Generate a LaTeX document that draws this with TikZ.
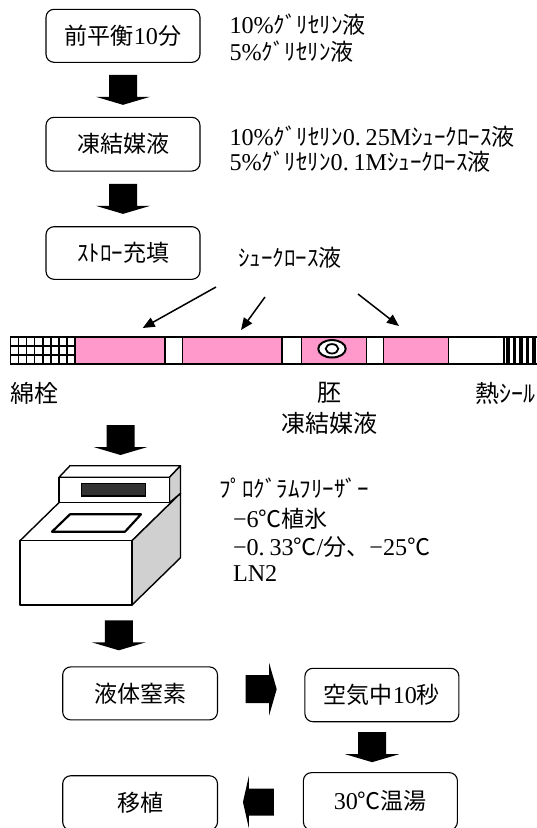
\documentclass[tikz,border=0pt]{standalone}
\usepackage{fontspec}
\setmainfont{Noto Sans CJK JP}
\newfontfamily\latn[Scale=1.05]{Liberation Serif}
\newcommand\lt[1]{{\latn #1}}
\usetikzlibrary{arrows.meta,calc}
\definecolor{strawpink}{HTML}{FF99CC}
\definecolor{sidegray}{HTML}{D0D0D0}
\definecolor{panel}{HTML}{333333}

\begin{document}
\begin{tikzpicture}[x=1pt,y=-1pt,
  every node/.style={inner sep=0pt, outer sep=0pt, font=\fontsize{23}{27}\selectfont},
  stepbox/.style={draw, line width=1.1pt, rounded corners=8pt, minimum width=154pt, minimum height=53pt, fill=white},
  note/.style={anchor=west},
  tag/.style={font=\fontsize{24}{28}\selectfont},
  lineout/.style={draw=black, line width=1.4pt, line join=round},
  pointer/.style={line width=1.5pt, -{Triangle[length=12pt,width=10pt]}},
  pics/downblock/.style={code={\fill (-14,-15) -- (14,-15) -- (14,7) -- (27,7) -- (0,15) -- (-27,7) -- (-14,7) -- cycle;}},
  pics/rightblock/.style={code={\fill (-15.5,-14) -- (8,-14) -- (8,-26) -- (15.5,0) -- (8,26) -- (8,14) -- (-15.5,14) -- cycle;}},
  pics/leftblock/.style={code={\fill (15.5,-13.5) -- (-9.5,-13.5) -- (-9.5,-26.5) -- (-15.5,0) -- (-9.5,26.5) -- (-9.5,13.5) -- (15.5,13.5) -- cycle;}},
]
\useasboundingbox (0,0) rectangle (537,828);
\clip (0,0) rectangle (537,828);

% preparation steps
\node[stepbox] (pre) at (123,35.8) {前平衡\lt{10}分};
\node[stepbox, minimum height=53.7pt] (cryo) at (123,144.2) {凍結媒液};
\node[stepbox, minimum height=52.6pt] (load) at (123,253) {ｽﾄﾛｰ充填};

\node[note] (n1a) at (229.5,25) {\lt{10\%}ｸﾞﾘｾﾘﾝ液};
\node[note] (n1b) at (229.5,51.7) {\lt{5\%}ｸﾞﾘｾﾘﾝ液};
\node[note] (n2a) at (229.5,136.7) {\lt{10\%}ｸﾞﾘｾﾘﾝ\lt{0.\kern.2em 25M}ｼｭｰｸﾛｰｽ液};
\node[note] (n2b) at (229.5,161.7) {\lt{5\%}ｸﾞﾘｾﾘﾝ\lt{0.\kern.2em 1M}ｼｭｰｸﾛｰｽ液};

\pic at ($(pre.south)!.5!(cryo.north)$) {downblock};
\pic at ($(cryo.south)!.5!(load.north)$) {downblock};

\node[note] (suc) at (238,258) {ｼｭｰｸﾛｰｽ液};

% straw
\draw[line width=1.4pt, fill=white] (10.7,337) rectangle (545,364);
\foreach \i in {0,...,8} \draw[line width=1.3pt] ({10.7+8.04*\i},337) -- ({10.7+8.04*\i},364);
\foreach \j in {0,...,3} \draw[line width=1.3pt] (10.7,{337+9*\j}) -- (75,{337+9*\j});
\draw[line width=1.4pt, fill=strawpink] (75,337) rectangle (165,364);
\draw[line width=1.4pt, fill=strawpink] (182.7,337) rectangle (281.8,364);
\draw[line width=1.4pt, fill=strawpink] (301.7,337) rectangle (366.7,364);
\draw[line width=1.4pt, fill=strawpink] (383.3,337) rectangle (448.3,364);
\draw[line width=1.4pt] (504,337) -- (504,364);
\foreach \sx in {506,512.5,519,525.5,532} \fill (\sx,337) rectangle ++(3.5,27);
\draw[line width=1.4pt] (10.7,337) rectangle (545,364);
\coordinate (emb) at (332,348.8);
\draw[line width=2pt, fill=white] (emb) ellipse [x radius=13.7pt, y radius=8.7pt];
\draw[line width=1.8pt] (emb) ellipse [x radius=6.3pt, y radius=4.7pt];

% sucrose pointers
\coordinate (s1) at (216,287); \coordinate (t1) at (142.7,328);
\coordinate (s2) at (265,297); \coordinate (t2) at (241,330);
\coordinate (s3) at (358,294); \coordinate (t3) at (399,326);
\draw[pointer] (s1) -- (t1);
\draw[pointer] (s2) -- (t2);
\draw[pointer] (s3) -- (t3);

\node[tag, anchor=west] (cotton) at (10,393) {綿栓};
\node[tag] (embl) at (329,393) {胚};
\node[tag] (medl) at (329,423) {凍結媒液};
\node[tag, anchor=west] (seal) at (475.5,393) {熱ｼｰﾙ};

\pic at (120.5,440) {downblock};

% programmable freezer
\draw[lineout, fill=white] (20,540.7) -- (68.5,493.3) -- (180.5,493.3) -- (132,540.7) -- cycle;
\draw[lineout, fill=sidegray] (132,540.7) -- (180.5,493.3) -- (180.5,557.7) -- (132,605) -- cycle;
\draw[lineout, fill=white] (20,540.7) rectangle (132,605);
\draw[lineout, fill=white] (59,477.3) -- (70,465.7) -- (180.5,465.7) -- (169.5,477.3) -- cycle;
\draw[lineout, fill=sidegray] (169.5,477.3) -- (180.5,465.7) -- (180.5,493.3) -- (169.5,502.7) -- cycle;
\draw[lineout, fill=white] (59,477.3) rectangle (169.5,502.7);
\draw[line width=1.3pt, fill=panel] (81.5,483.3) rectangle (145.5,496);
\draw[line width=2.2pt, line join=round, fill=white] (52,531.7) -- (125,531.7) -- (141,514.3) -- (70,514.3) -- cycle;

\node[note] (fz0) at (219,488) {ﾌﾟﾛｸﾞﾗﾑﾌﾘｰｻﾞｰ};
\node[note] (fz1) at (233,519) {\lt{−6}℃植氷};
\node[note] (fz2) at (233,546.7) {\lt{−0.\kern.2em 33}℃\lt{/}分、\lt{−25}℃};
\node[note] (fz3) at (233,573.3) {\lt{LN2}};

\pic at (118.8,635.3) {downblock};

% thawing and transfer
\node[stepbox, minimum width=154.8pt] (ln) at (140.1,693.4) {液体窒素};
\node[stepbox, minimum height=53.4pt] (air) at (381.9,695) {空気中\lt{10}秒};
\node[stepbox, minimum height=57.3pt] (bath) at (380.4,801.3) {\lt{30}℃温湯};
\node[stepbox, minimum width=154.8pt, minimum height=54.3pt] (tx) at (140.1,802.9) {移植};

\pic at ($(ln.east)!.5!(air.west)+(0,-5)$) {rightblock};
\pic at ($(air.south)!.5!(bath.north)+(-9,0)$) {downblock};
\pic at ($(tx.east)!.5!(bath.west)+(-2,0)$) {leftblock};
\end{tikzpicture}
\end{document}
